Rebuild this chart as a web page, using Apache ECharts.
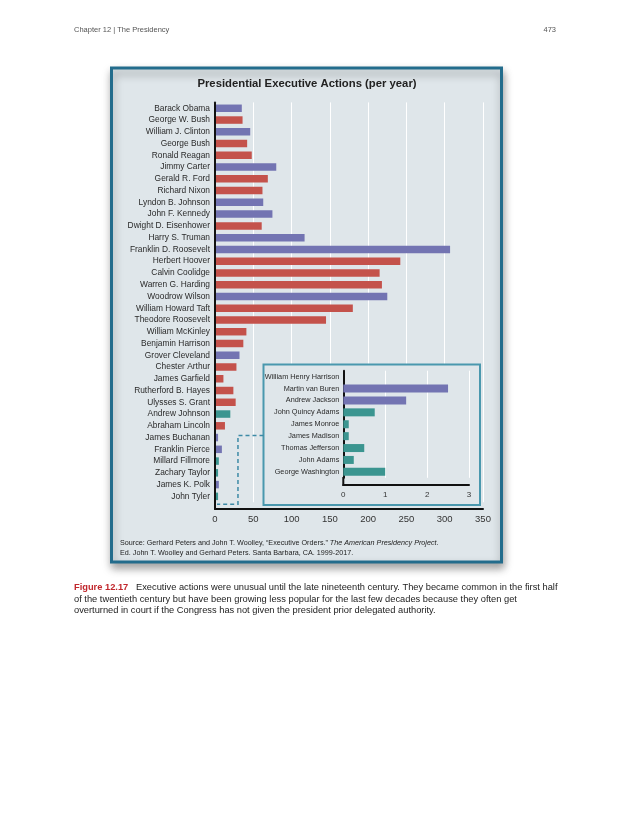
<!DOCTYPE html>
<html>
<head>
<meta charset="utf-8">
<script src="https://cdn.jsdelivr.net/npm/echarts@6/dist/echarts.min.js"></script>
<style>
html,body{margin:0;padding:0;background:#ffffff;}
#chart{width:630px;height:815px;}
</style>
</head>
<body>
<div id="chart"></div>
<script>
// ---- data ----
const presidents = ["Barack Obama","George W. Bush","William J. Clinton","George Bush","Ronald Reagan","Jimmy Carter","Gerald R. Ford","Richard Nixon","Lyndon B. Johnson","John F. Kennedy","Dwight D. Eisenhower","Harry S. Truman","Franklin D. Roosevelt","Herbert Hoover","Calvin Coolidge","Warren G. Harding","Woodrow Wilson","William Howard Taft","Theodore Roosevelt","William McKinley","Benjamin Harrison","Grover Cleveland","Chester Arthur","James Garfield","Rutherford B. Hayes","Ulysses S. Grant","Andrew Johnson","Abraham Lincoln","James Buchanan","Franklin Pierce","Millard Fillmore","Zachary Taylor","James K. Polk","John Tyler"];
const actionsPerYear = [35,36,46,42,48,80,69,62,63,75,61,117,307,242,215,218,225,180,145,41,37,32,28,11,24,27,20,13,4,9,5,4,5,4];
const party = ["D","R","D","R","R","D","R","R","D","D","R","D","D","R","R","R","D","R","R","R","R","D","R","R","R","R","O","R","D","D","O","O","D","O"];

const earlyPresidents = ["William Henry Harrison","Martin van Buren","Andrew Jackson","John Quincy Adams","James Monroe","James Madison","Thomas Jefferson","John Adams","George Washington"];
const earlyActionsPerYear = [0,2.5,1.5,0.75,0.13,0.13,0.5,0.25,1.0];
const earlyParty = ["O","D","D","O","O","O","O","O","O"];

const mainTicks = [0,50,100,150,200,250,300,350];
const insetTicks = [0,1,2,3];

const partyColor = {D:"#7374b2", R:"#c4524b", O:"#3b9590"};

const FONT = "'Liberation Sans',Arial,sans-serif";

const chart = echarts.init(document.getElementById('chart'), null, {renderer:'canvas'});

const mainData = actionsPerYear.map((v,i)=>({value:v,itemStyle:{color:partyColor[party[i]]}}));
const earlyData = earlyActionsPerYear.map((v,i)=>({value:v,itemStyle:{color:partyColor[earlyParty[i]]}}));

const bandMain = 11.76;
const gridTop = 102.4;
const gridBottom = gridTop + bandMain*presidents.length;

const option = {
  animation:false,
  backgroundColor:'#ffffff',
  grid:[
    {left:215, top:gridTop, width:268, height:bandMain*presidents.length, containLabel:false},
    {left:343.3, top:370.7, width:125.7, height:11.9*earlyPresidents.length, containLabel:false}
  ],
  xAxis:[
    {type:'value', gridIndex:0, min:mainTicks[0], max:mainTicks[mainTicks.length-1], interval:50, offset:6.6,
     axisLine:{show:true,lineStyle:{color:'#111',width:2}}, axisTick:{show:false},
     axisLabel:{fontSize:9.5,color:'#333',margin:6,fontFamily:FONT},
     splitLine:{show:true,lineStyle:{color:'#ffffff',width:1}}, z:1},
    {type:'value', gridIndex:1, min:insetTicks[0], max:insetTicks[insetTicks.length-1], interval:1, offset:7,
     axisLine:{show:true,lineStyle:{color:'#111',width:2}}, axisTick:{show:false},
     axisLabel:{fontSize:8,color:'#333',margin:6,fontFamily:FONT},
     splitLine:{show:true,lineStyle:{color:'#ffffff',width:1}}, z:12}
  ],
  yAxis:[
    {type:'category', gridIndex:0, data:presidents, inverse:true,
     axisLine:{show:true,lineStyle:{color:'#111',width:2}}, axisTick:{show:false},
     axisLabel:{interval:0,fontSize:8.4,color:'#2a2a2a',margin:5,fontFamily:FONT}, z:3},
    {type:'category', gridIndex:1, data:earlyPresidents, inverse:true,
     axisLine:{show:true,lineStyle:{color:'#111',width:2}}, axisTick:{show:false},
     axisLabel:{interval:0,fontSize:7.3,color:'#2a2a2a',margin:4,fontFamily:FONT}, z:12}
  ],
  series:[
    {type:'bar', xAxisIndex:0, yAxisIndex:0, data:mainData, barWidth:7.5, z:2},
    {type:'bar', xAxisIndex:1, yAxisIndex:1, data:earlyData, barWidth:8, z:12}
  ],
  graphic:[
    {id:'hdrL', type:'text', left:74, top:26, z:1, style:{text:'Chapter 12 | The Presidency', fill:'#555', font:"7.5px "+FONT}},
    {id:'hdrR', type:'text', right:74, top:26, z:1, style:{text:'473', fill:'#555', font:"7.5px "+FONT}},
    {id:'panel', type:'rect', z:-5, shape:{x:111.5,y:68,width:390,height:494},
     style:{fill:'#dfe6ea', stroke:'#236c8c', lineWidth:3, shadowBlur:8, shadowOffsetY:5, shadowOffsetX:1, shadowColor:'rgba(0,0,0,0.35)'}},
    {id:'title', type:'text', x:307, y:84, z:6, style:{text:'Presidential Executive Actions (per year)', fill:'#222', font:"bold 11.3px "+FONT, align:'center', verticalAlign:'middle'}},
    {id:'insetBox', type:'rect', z:8, shape:{x:263.5,y:364.5,width:216.5,height:140.5},
     style:{fill:'#dfe6ea', stroke:'#4a98ae', lineWidth:2}},
    {id:'source', type:'text', x:120, y:538, z:6, style:{
      text:'Source: Gerhard Peters and John T. Woolley, “Executive Orders.” {i|The American Presidency Project}.\nEd. John T. Woolley and Gerhard Peters. Santa Barbara, CA. 1999-2017.',
      fill:'#222', font:"7.2px "+FONT, lineHeight:10,
      rich:{i:{fontStyle:'italic', fontSize:7.2, fontFamily:FONT, fill:'#222'}}}},
    {id:'caption', type:'text', x:74, y:582, z:6, style:{
      text:'{f|Figure 12.17}   Executive actions were unusual until the late nineteenth century. They became common in the first half\nof the twentieth century but have been growing less popular for the last few decades because they often get\noverturned in court if the Congress has not given the president prior delegated authority.',
      fill:'#222', font:"9.3px "+FONT, lineHeight:11.3,
      rich:{f:{fill:'#c1272d', fontSize:9.3, fontFamily:FONT, fontWeight:'bold'}}}}
  ]
};
chart.setOption(option);

// decorative connectors derived from the axes
const p0 = chart.convertToPixel({gridIndex:0}, [0, 'John Tyler']);
const pC = chart.convertToPixel({gridIndex:0}, [30, 'James Buchanan']);
chart.setOption({graphic:[
  {id:'yExt', type:'line', z:9, shape:{x1:p0[0], y1:gridBottom-1, x2:p0[0], y2:gridBottom+7.6}, style:{stroke:'#111', lineWidth:2}},
  {id:'yExt2', type:'line', z:13, shape:{x1:343.3, y1:477, x2:343.3, y2:486}, style:{stroke:'#111', lineWidth:2}},
  {id:'bracket', type:'polyline', z:9, shape:{points:[[263.5,pC[1]-2],[pC[0],pC[1]-2],[pC[0],gridBottom+2],[p0[0]+2,gridBottom+2]]},
   style:{stroke:'#3d8aa6', lineWidth:1.5, lineDash:[4,3], fill:null}}
]});
</script>
</body>
</html>
